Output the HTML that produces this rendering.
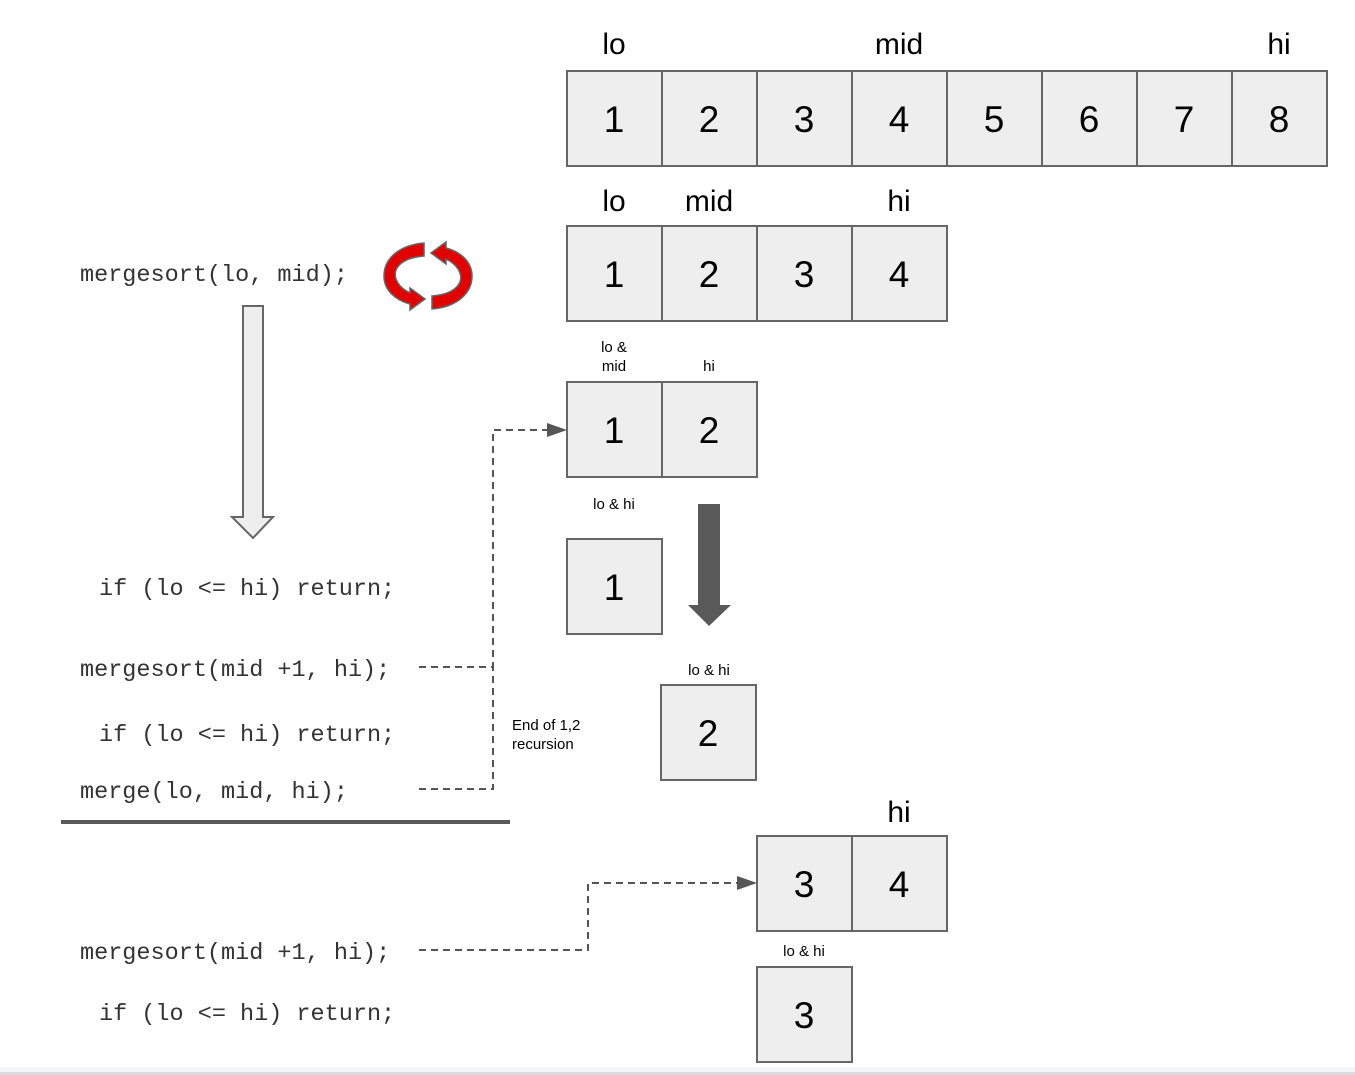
<!DOCTYPE html>
<html><head><meta charset="utf-8"><style>
html,body{margin:0;padding:0;background:#fff;}
svg{display:block;}
.n{font-family:"Liberation Sans",sans-serif;font-size:37px;fill:#000;text-anchor:middle;}
.l{font-family:"Liberation Sans",sans-serif;font-size:30px;fill:#000;text-anchor:middle;}
.s{font-family:"Liberation Sans",sans-serif;font-size:15px;fill:#000;text-anchor:middle;}
.c{font-family:"Liberation Mono",monospace;font-size:23.5px;fill:#333;}
.b{fill:#eeeeee;stroke:#666;stroke-width:2;}
</style></head><body>
<svg width="1355" height="1075" viewBox="0 0 1355 1075" xmlns="http://www.w3.org/2000/svg">
<g>
<rect class="b" x="567" y="71" width="95" height="95"/><rect class="b" x="662" y="71" width="95" height="95"/>
<rect class="b" x="757" y="71" width="95" height="95"/><rect class="b" x="852" y="71" width="95" height="95"/>
<rect class="b" x="947" y="71" width="95" height="95"/><rect class="b" x="1042" y="71" width="95" height="95"/>
<rect class="b" x="1137" y="71" width="95" height="95"/><rect class="b" x="1232" y="71" width="95" height="95"/>
<text class="n" x="614" y="132">1</text><text class="n" x="709" y="132">2</text><text class="n" x="804" y="132">3</text><text class="n" x="899" y="132">4</text>
<text class="n" x="994" y="132">5</text><text class="n" x="1089" y="132">6</text><text class="n" x="1184" y="132">7</text><text class="n" x="1279" y="132">8</text>
<text class="l" x="614" y="54">lo</text><text class="l" x="899" y="54">mid</text><text class="l" x="1279" y="54">hi</text>
</g>
<rect class="b" x="567" y="226" width="95" height="95"/><rect class="b" x="662" y="226" width="95" height="95"/>
<rect class="b" x="757" y="226" width="95" height="95"/><rect class="b" x="852" y="226" width="95" height="95"/>
<text class="n" x="614" y="287">1</text><text class="n" x="709" y="287">2</text><text class="n" x="804" y="287">3</text><text class="n" x="899" y="287">4</text>
<text class="l" x="614" y="211">lo</text><text class="l" x="709" y="211">mid</text><text class="l" x="899" y="211">hi</text>
<rect class="b" x="567" y="382" width="95" height="95"/><rect class="b" x="662" y="382" width="95" height="95"/>
<text class="n" x="614" y="443">1</text><text class="n" x="709" y="443">2</text>
<text class="s" x="614" y="352">lo &amp;</text><text class="s" x="614" y="371">mid</text><text class="s" x="709" y="371">hi</text>
<text class="s" x="614" y="509">lo &amp; hi</text>
<rect class="b" x="567" y="539" width="95" height="95"/><text class="n" x="614" y="600">1</text>
<text class="s" x="709" y="675">lo &amp; hi</text>
<rect class="b" x="661" y="685" width="95" height="95"/><text class="n" x="708" y="746">2</text>
<text class="l" x="899" y="822">hi</text>
<rect class="b" x="757" y="836" width="95" height="95"/><rect class="b" x="852" y="836" width="95" height="95"/>
<text class="n" x="804" y="897">3</text><text class="n" x="899" y="897">4</text>
<text class="s" x="804" y="956">lo &amp; hi</text>
<rect class="b" x="757" y="967" width="95" height="95"/><text class="n" x="804" y="1028">3</text>
<polygon points="698,504 720,504 720,605 731,605 709,626 688,605 698,605" fill="#595959"/>
<polygon points="243,306 263,306 263,517 273,517 253,538 232,517 243,517" fill="#eeeeee" stroke="#666" stroke-width="2"/>
<g stroke="#666" stroke-width="1.5" fill="#e00000">
<path d="M424,243 L424,256 C400,258 390,270 398,283 C401,288 406,291 410,293 L410,288 L425,299 L410,310 L410,304 C395,300 384,290 384,276 C384,258 400,245 424,243 Z"/>
<path d="M432,309 L432,296 C456,294 466,282 458,269 C455,264 450,261 446,259 L446,264 L431,253 L446,242 L446,248 C461,252 472,262 472,276 C472,294 456,307 432,309 Z"/>
</g>
<text class="c" x="80" y="281">mergesort(lo, mid);</text>
<text class="c" x="99" y="595">if (lo &lt;= hi) return;</text>
<text class="c" x="80" y="676">mergesort(mid +1, hi);</text>
<text class="c" x="99" y="741">if (lo &lt;= hi) return;</text>
<text class="c" x="80" y="798">merge(lo, mid, hi);</text>
<text class="c" x="80" y="959">mergesort(mid +1, hi);</text>
<text class="c" x="99" y="1020">if (lo &lt;= hi) return;</text>
<line x1="61" y1="822" x2="510" y2="822" stroke="#595959" stroke-width="4"/>
<g fill="none" stroke="#555" stroke-width="2" stroke-dasharray="7,5">
<polyline points="419,667 493,667 493,430 550,430"/>
<polyline points="419,789 493,789 493,660"/>
<polyline points="419,950 588,950 588,883 740,883"/>
</g>
<polygon points="567,430 547,423 547,437" fill="#555"/>
<polygon points="757,883 737,876 737,890" fill="#555"/>
<text x="512" y="730" font-family="Liberation Sans,sans-serif" font-size="15" fill="#000">End of 1,2</text>
<text x="512" y="749" font-family="Liberation Sans,sans-serif" font-size="15" fill="#000">recursion</text>
<rect x="0" y="1067" width="1355" height="5" fill="#f5f6f8"/>
<rect x="0" y="1072" width="1355" height="3" fill="#d9dbde"/>
</svg>
</body></html>
